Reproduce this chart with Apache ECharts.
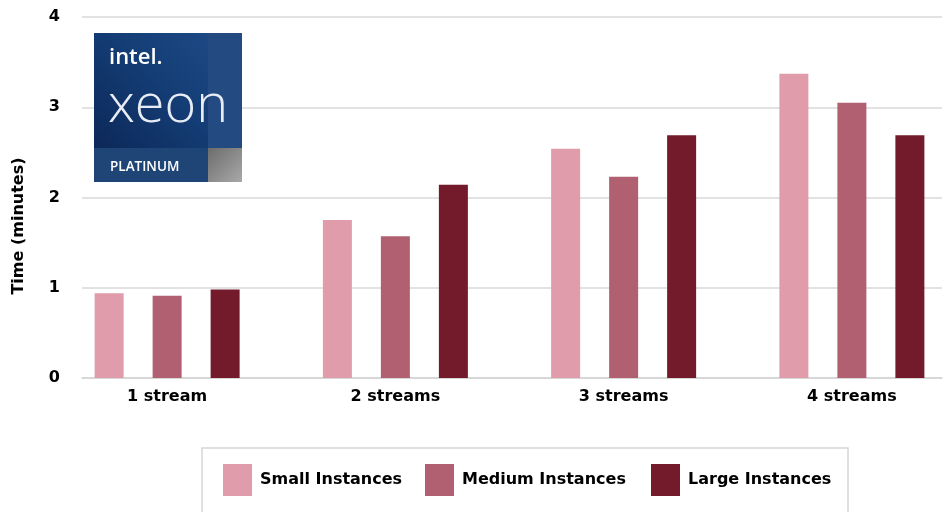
<!DOCTYPE html>
<html>
<head>
<meta charset="utf-8">
<script src="https://cdn.jsdelivr.net/npm/echarts@6/dist/echarts.min.js"></script>
<style>html,body{margin:0;padding:0;background:#fff}#c{width:949px;height:512px}</style>
</head>
<body>
<div id="c"></div>
<script>
var categories = ['1 stream', '2 streams', '3 streams', '4 streams'];
var seriesNames = ['Small Instances', 'Medium Instances', 'Large Instances'];
var smallValues = [0.94, 1.75, 2.54, 3.37];
var mediumValues = [0.91, 1.57, 2.23, 3.05];
var largeValues = [0.98, 2.14, 2.69, 2.69];
var yTicks = [0, 1, 2, 3, 4];
var colors = ['#e09caa', '#b06071', '#731a2b'];
var axisName = 'Time (minutes)';

var FONT = 'DejaVu Sans';
var chart = echarts.init(document.getElementById('c'), null, {renderer: 'canvas'});

function mkLegend(i, left) {
  return {
    data: [seriesNames[i]], left: left, top: 464, padding: 0,
    itemWidth: 29, itemHeight: 32, itemGap: 0, icon: 'rect',
    textStyle: {fontFamily: FONT, fontWeight: 'bold', fontSize: 16, color: '#000', padding: [0, 0, 0, 3]},
    selectedMode: false
  };
}

var LZ = 100;
var option = {
  animation: false,
  backgroundColor: '#fff',
  grid: [
    {left: 82, right: 7, top: 17, bottom: 134, outerBoundsMode: 'none', containLabel: false},
    {left: 53, width: 913, top: 17, bottom: 134, outerBoundsMode: 'none', containLabel: false}
  ],
  xAxis: [
    {gridIndex: 0, type: 'category', data: categories, axisTick: {show: false}, axisLabel: {show: false},
     axisLine: {lineStyle: {color: '#d4d4d4', width: 1.5}}},
    {gridIndex: 1, type: 'category', data: categories, axisTick: {show: false}, axisLine: {show: false},
     axisLabel: {margin: 11, fontFamily: FONT, fontWeight: 'bold', fontSize: 16, color: '#000'}}
  ],
  yAxis: [
    {gridIndex: 0, type: 'value', min: yTicks[0], max: yTicks[yTicks.length - 1], interval: 1,
     axisLine: {show: false}, axisTick: {show: false},
     axisLabel: {margin: 22, fontFamily: FONT, fontWeight: 'bold', fontSize: 16, color: '#000'},
     splitLine: {lineStyle: {color: '#d9d9d9', width: 1.5}}},
    {gridIndex: 1, type: 'value', min: 0, max: 4, show: false, splitLine: {show: false}}
  ],
  legend: [mkLegend(0, 223), mkLegend(1, 425), mkLegend(2, 651)],
  series: [
    {name: seriesNames[0], type: 'bar', xAxisIndex: 1, yAxisIndex: 1, data: smallValues,
     barWidth: 29, barGap: '100%', itemStyle: {color: colors[0]}},
    {name: seriesNames[1], type: 'bar', xAxisIndex: 1, yAxisIndex: 1, data: mediumValues,
     barWidth: 29, barGap: '100%', itemStyle: {color: colors[1]}},
    {name: seriesNames[2], type: 'bar', xAxisIndex: 1, yAxisIndex: 1, data: largeValues,
     barWidth: 29, barGap: '100%', itemStyle: {color: colors[2]}}
  ],
  graphic: [
    {type: 'text', x: 19, y: 226, rotation: Math.PI / 2,
     style: {text: axisName, fontFamily: FONT, fontWeight: 'bold', fontSize: 16, fill: '#000',
             align: 'center', verticalAlign: 'middle'}},
    {type: 'rect', shape: {x: 202, y: 448, width: 646, height: 80}, silent: true, z: -1,
     style: {fill: 'none', stroke: '#d6d6d6', lineWidth: 1.5}},
    {type: 'rect', z: LZ, zlevel: 1, shape: {x: 94, y: 33, width: 148, height: 149},
     style: {fill: new echarts.graphic.LinearGradient(1, 0, 0, 1, [
       {offset: 0, color: '#1f4c88'}, {offset: 0.45, color: '#143d75'}, {offset: 1, color: '#0a2250'}])}},
    {type: 'rect', z: LZ + 1, zlevel: 1, shape: {x: 208, y: 33, width: 34, height: 115},
     style: {fill: '#234b82'}},
    {type: 'rect', z: LZ + 1, zlevel: 1, shape: {x: 94, y: 148, width: 114, height: 34},
     style: {fill: '#1f4577'}},
    {type: 'rect', z: LZ + 1, zlevel: 1, shape: {x: 208, y: 148, width: 34, height: 34},
     style: {fill: new echarts.graphic.LinearGradient(0, 0, 1, 1, [
       {offset: 0, color: '#6c6c6c'}, {offset: 1, color: '#a9a9a9'}])}},
    {type: 'text', z: LZ + 2, zlevel: 1, x: 109, y: 58,
     style: {text: 'intel.', fontFamily: 'Open Sans', fontWeight: 600, fontSize: 22, fill: '#fff',
             verticalAlign: 'middle'}},
    {type: 'text', z: LZ + 2, zlevel: 1, x: 108, y: 107,
     style: {text: 'xeon', fontFamily: 'Open Sans', fontWeight: 300, fontSize: 54, fill: '#e8edf5',
             verticalAlign: 'middle'}},
    {type: 'text', z: LZ + 2, zlevel: 1, x: 110, y: 167,
     style: {text: 'PLATINUM', fontFamily: 'Open Sans', fontWeight: 600, fontSize: 13.5, fill: '#fff',
             verticalAlign: 'middle'}}
  ]
};
chart.setOption(option);
</script>
</body>
</html>
